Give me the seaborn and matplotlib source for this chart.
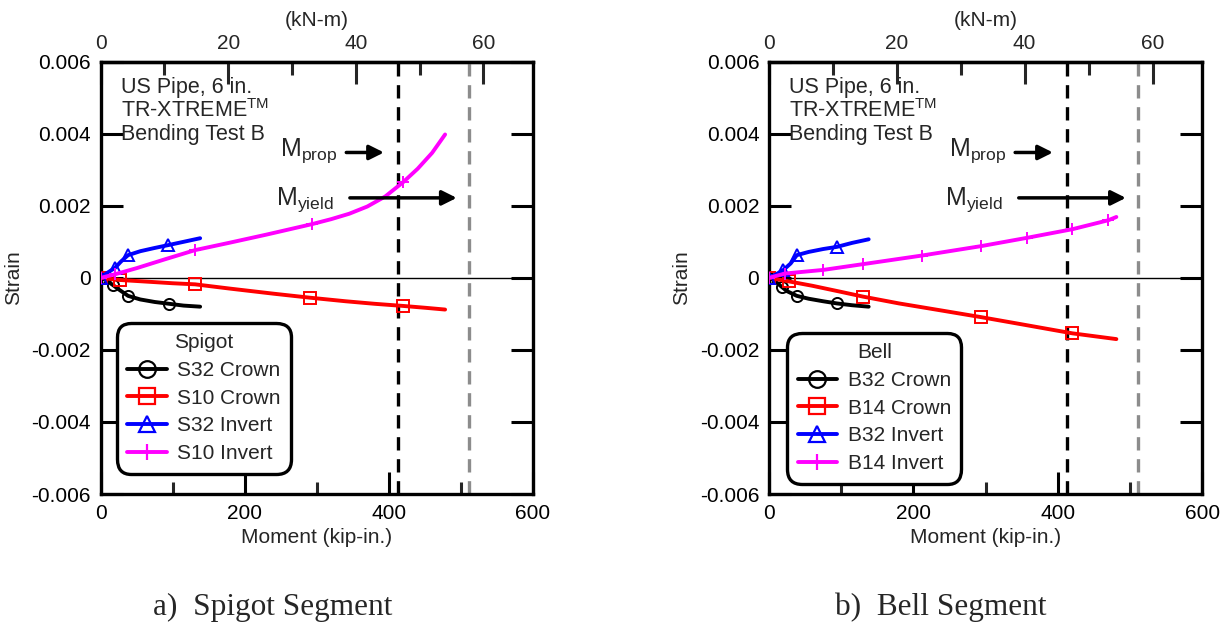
import numpy as np
import pandas as pd
import matplotlib
matplotlib.use("Agg")
import matplotlib.pyplot as plt
from matplotlib.ticker import MultipleLocator, FixedLocator, FixedFormatter
from matplotlib.lines import Line2D
import seaborn as sns

# ---------------- data (moment in kip-in., strain) ----------------
# Spigot segment
s32_crown_m = [0, 5, 10, 17, 25, 38, 55, 75, 95, 115, 138]
s32_crown_s = [0, -0.00004, -0.0001, -0.0002, -0.00032, -0.0005, -0.0006, -0.00067, -0.00072, -0.00077, -0.0008]
s32_crown_mk = [0, 3, 5, 8]

s10_crown_m = [0, 27, 60, 100, 131, 180, 240, 290, 340, 380, 420, 450, 478]
s10_crown_s = [0, -0.00006, -0.0001, -0.00015, -0.00018, -0.0003, -0.00044, -0.00055, -0.00065, -0.00072, -0.00078, -0.00083, -0.00088]
s10_crown_mk = [0, 1, 4, 7, 10]

s32_invert_m = [0, 5, 10, 20, 28, 38, 55, 75, 94, 115, 138]
s32_invert_s = [0, 0.00008, 0.00015, 0.00028, 0.00045, 0.00063, 0.00074, 0.00083, 0.00091, 0.001, 0.0011]
s32_invert_mk = [0, 3, 5, 8]

s10_invert_m = [0, 20, 50, 90, 131, 180, 230, 293, 320, 345, 370, 395, 420, 440, 460, 478]
s10_invert_s = [0, 0.0001, 0.00027, 0.00052, 0.00077, 0.00098, 0.0012, 0.00149, 0.00163, 0.00178, 0.00198, 0.00226, 0.00266, 0.00303, 0.00347, 0.00398]
s10_invert_mk = [0, 1, 4, 7, 12]

# Bell segment
b32_crown_m = [0, 5, 10, 17.6, 25, 38.5, 55, 75, 94, 115, 138]
b32_crown_s = [0, -0.00005, -0.00012, -0.00025, -0.00037, -0.0005, -0.00058, -0.00065, -0.00071, -0.00076, -0.0008]
b32_crown_mk = [0, 3, 5, 8]

b14_crown_m = [0, 28, 60, 100, 130, 180, 240, 293.5, 350, 420, 481]
b14_crown_s = [0, -0.0001, -0.00022, -0.00039, -0.00052, -0.00071, -0.00091, -0.00109, -0.00129, -0.00154, -0.0017]
b14_crown_mk = [0, 1, 4, 7, 9]

b32_invert_m = [0, 5, 10, 20, 30, 38.5, 55, 75, 94, 115, 138]
b32_invert_s = [0, 0.00005, 0.0001, 0.00022, 0.0004, 0.00063, 0.00072, 0.0008, 0.00086, 0.00097, 0.00107]
b32_invert_mk = [0, 3, 5, 8]

b14_invert_m = [0, 22, 75, 130, 212, 293.5, 357, 420, 470, 481]
b14_invert_s = [0, 0.00012, 0.00022, 0.00038, 0.00062, 0.00088, 0.00111, 0.00135, 0.0016, 0.00169]
b14_invert_mk = [0, 1, 2, 3, 4, 5, 6, 7, 8]

m_prop = 413
m_yield = 511

y_ticks = [-0.006, -0.004, -0.002, 0, 0.002, 0.004, 0.006]
y_tick_labels = ["-0.006", "-0.004", "-0.002", "0", "0.002", "0.004", "0.006"]
x_ticks = [0, 200, 400, 600]
knm_ticks = [0, 20, 40, 60]

KIPIN_TO_KNM = 0.112985

# ---------------- style ----------------
sns.set_theme(style="ticks")
plt.rcParams["font.family"] = ["Liberation Sans", "DejaVu Sans"]
plt.rcParams["mathtext.fontset"] = "custom"
plt.rcParams["mathtext.rm"] = "Liberation Sans"
plt.rcParams["mathtext.default"] = "regular"
plt.rcParams["axes.unicode_minus"] = False

FS = 15
LW = 2.8

fig = plt.figure(figsize=(12.31, 6.28), dpi=100)
W, H = 1231, 628
ax_l = fig.add_axes([100.7 / W, 1 - 494 / H, 432.3 / W, 432.3 / H])
ax_r = fig.add_axes([769 / W, 1 - 494 / H, 433.3 / W, 432.3 / H])

def draw(ax, series, legend_title, leg_anchor):
    handles = []
    for (m, s, mk, color, marker, label) in series:
        df = pd.DataFrame({"M": m, "S": s})
        sns.lineplot(data=df, x="M", y="S", ax=ax, color=color, lw=LW,
                     sort=False, estimator=None, legend=False,
                     marker=marker, markevery=mk, markersize=8,
                     markerfacecolor="none", markeredgecolor=color,
                     markeredgewidth=1.4, zorder=3)
        handles.append(Line2D([], [], color=color, lw=LW, marker=marker,
                              markersize=12, markerfacecolor="none",
                              markeredgecolor=color, markeredgewidth=1.6,
                              label=label))
    ax.axhline(0, color="black", lw=1.0, zorder=2)
    ax.axvline(m_prop, color="black", lw=2.4, ls=(0, (4, 2.6)), zorder=2)
    ax.axvline(m_yield, color="#8c8c8c", lw=2.4, ls=(0, (4, 2.6)), zorder=2)

    ax.set_xlim(0, 600)
    ax.set_ylim(-0.006, 0.006)
    ax.xaxis.set_major_locator(FixedLocator(x_ticks))
    ax.xaxis.set_minor_locator(MultipleLocator(100))
    ax.yaxis.set_major_locator(FixedLocator(y_ticks))
    ax.yaxis.set_major_formatter(FixedFormatter(y_tick_labels))
    ax.tick_params(axis="both", which="major", direction="in", length=16, width=2.2,
                   labelsize=FS, pad=7, color="black", labelcolor="black")
    ax.tick_params(axis="x", which="minor", direction="in", length=9, width=2.2,
                   bottom=True, top=False)
    ax.tick_params(axis="y", which="both", left=True, right=True, labelright=False)
    ax.tick_params(axis="x", which="both", top=False)
    for sp in ax.spines.values():
        sp.set_visible(True)
        sp.set_linewidth(2.4)
        sp.set_color("black")
    ax.set_xlabel("Moment (kip-in.)", fontsize=FS, labelpad=4)
    ax.set_ylabel("Strain", fontsize=FS, labelpad=6)

    sec = ax.secondary_xaxis("top", functions=(lambda x: x * KIPIN_TO_KNM,
                                               lambda x: x / KIPIN_TO_KNM))
    sec.xaxis.set_major_locator(FixedLocator(knm_ticks))
    sec.xaxis.set_minor_locator(MultipleLocator(10))
    sec.tick_params(which="major", direction="in", length=16, width=2.2, labelsize=FS, pad=6)
    sec.tick_params(which="minor", direction="in", length=9, width=2.2)
    sec.spines["top"].set_linewidth(2.4)
    sec.set_xlabel("(kN-m)", fontsize=FS, labelpad=6)

    # annotations
    ax.text(0.047, 0.9276, "US Pipe, 6 in.", transform=ax.transAxes, fontsize=15.5, va="baseline")
    ax.text(0.047, 0.872, "TR-XTREME$^{TM}$", transform=ax.transAxes, fontsize=15.5, va="baseline")
    ax.text(0.047, 0.819, "Bending Test B", transform=ax.transAxes, fontsize=15.5, va="baseline")

    ax.text(329, 0.00352, r"M$_{prop}$", fontsize=18, ha="right", va="center")
    ax.annotate("", xy=(397, 0.00348), xytext=(337, 0.00348),
                arrowprops=dict(arrowstyle="-|>", lw=2.5, color="black", mutation_scale=22))
    ax.text(324, 0.00218, r"M$_{yield}$", fontsize=18, ha="right", va="center")
    ax.annotate("", xy=(498, 0.00222), xytext=(342, 0.00222),
                arrowprops=dict(arrowstyle="-|>", lw=2.5, color="black", mutation_scale=22))

    leg = ax.legend(handles=handles, title=legend_title, loc="upper left",
                    bbox_to_anchor=leg_anchor, borderaxespad=0, fontsize=FS,
                    title_fontsize=FS, handlelength=1.9, handletextpad=0.5,
                    labelspacing=0.42, borderpad=0.5, frameon=True, fancybox=True)
    fr = leg.get_frame()
    fr.set_edgecolor("black")
    fr.set_linewidth(2.4)
    fr.set_facecolor("white")
    fr.set_alpha(1)
    fr.set_boxstyle("round", pad=0, rounding_size=0.7)
    leg.set_zorder(5)

draw(ax_l, [
    (s32_crown_m, s32_crown_s, s32_crown_mk, "black", "o", "S32 Crown"),
    (s10_crown_m, s10_crown_s, s10_crown_mk, "red", "s", "S10 Crown"),
    (s32_invert_m, s32_invert_s, s32_invert_mk, "blue", "^", "S32 Invert"),
    (s10_invert_m, s10_invert_s, s10_invert_mk, "magenta", "+", "S10 Invert"),
], "Spigot", (0.037, 0.396))

draw(ax_r, [
    (b32_crown_m, b32_crown_s, b32_crown_mk, "black", "o", "B32 Crown"),
    (b14_crown_m, b14_crown_s, b14_crown_mk, "red", "s", "B14 Crown"),
    (b32_invert_m, b32_invert_s, b32_invert_mk, "blue", "^", "B32 Invert"),
    (b14_invert_m, b14_invert_s, b14_invert_mk, "magenta", "+", "B14 Invert"),
], "Bell", (0.042, 0.373))

fig.text(273 / W, 1 - 607 / H, "a)  Spigot Segment", family="Liberation Serif",
         fontsize=22.5, ha="center", va="center")
fig.text(941 / W, 1 - 607 / H, "b)  Bell Segment", family="Liberation Serif",
         fontsize=22.5, ha="center", va="center")

fig.savefig("out.png", dpi=100)
